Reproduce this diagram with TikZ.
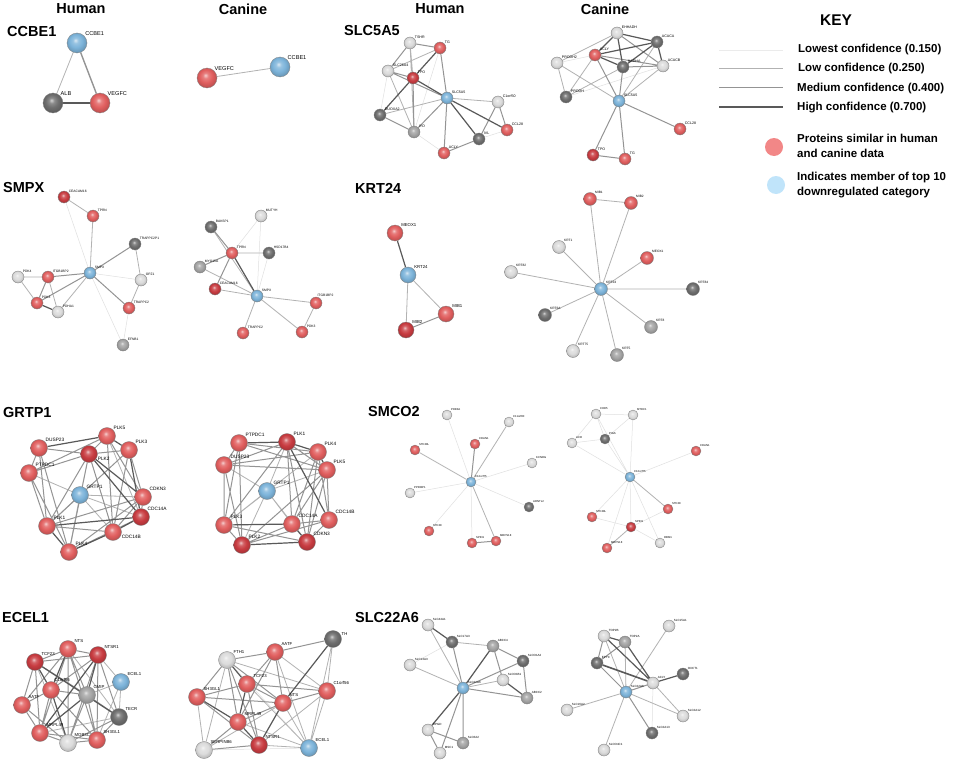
\documentclass[tikz,border=0pt]{standalone}
\usepackage{fontspec}
\setmainfont{Liberation Sans}
\usepackage{tikz}
\usetikzlibrary{backgrounds}
\definecolor{redb}{RGB}{225,95,95}
\definecolor{dredb}{RGB}{200,60,65}
\definecolor{blueb}{RGB}{125,180,218}
\definecolor{lgrayb}{RGB}{220,220,220}
\definecolor{mgrayb}{RGB}{165,165,165}
\definecolor{dgrayb}{RGB}{110,110,110}
\definecolor{keyred}{RGB}{242,135,135}
\definecolor{keyblue}{RGB}{192,228,250}
\colorlet{protc}{redb}
\pgfdeclareradialshading[protc]{glossy}{\pgfpoint{-4bp}{7bp}}{color(0bp)=(protc!30!white); color(7bp)=(protc!80!white); color(16bp)=(protc); color(26bp)=(protc!85!black); color(32bp)=(protc!60!black); color(50bp)=(protc!60!black)}
\tikzset{
	glow/.style={/utils/exec={\colorlet{protc}{#1}}, shade, shading=glossy},
	prot/.style={circle, draw=black!50, line width=0.3pt, inner sep=0pt, minimum size=12pt},
	pr/.style={prot, glow=redb},
	pdr/.style={prot, glow=dredb},
	pb/.style={prot, glow=blueb},
	pl/.style={prot, glow=lgrayb},
	pm/.style={prot, glow=mgrayb},
	pd/.style={prot, glow=dgrayb},
	e1/.style={draw=black!12, line width=0.5pt},
	e2/.style={draw=black!30, line width=0.8pt},
	e3/.style={draw=black!42, line width=1pt},
	e4/.style={draw=black!65, line width=1.2pt},
	head/.style={font=\fontsize{14.5}{16}\selectfont\bfseries, inner sep=0pt},
	ttl/.style={font=\fontsize{14.5}{16}\selectfont\bfseries, anchor=west, inner sep=0pt},
	keytxt/.style={font=\fontsize{11.5}{15}\selectfont\bfseries, anchor=west, inner sep=0pt, align=left}
}

\begin{document}
\begin{tikzpicture}[x=1pt, y=-1pt]
	\useasboundingbox (0,0) rectangle (957,765);
	\begin{pgfonlayer}{background}
		\fill[white] (0,0) rectangle (957,765);
	\end{pgfonlayer}
	%% Headers
	\node [head] at (81,9) (hdH1) {Human};
	\node [head] at (243,9) (hdC1) {Canine};
	\node [head] at (440,9) (hdH2) {Human};
	\node [head] at (605,9) (hdC2) {Canine};
	\node [ttl] at (7,32) (tCCBE) {CCBE1};
	\node [ttl] at (344,31) (tSLC5) {SLC5A5};
	\node [ttl] at (3,188) (tSMPX) {SMPX};
	\node [ttl] at (355,188) (tKRT) {KRT24};
	\node [ttl] at (3,413) (tGRTP) {GRTP1};
	\node [ttl] at (368,412) (tSMCO) {SMCO2};
	\node [ttl] at (2,617) (tECEL) {ECEL1};
	\node [ttl] at (355,617) (tSLC22) {SLC22A6};

	%% Key
	\node [head, font=\fontsize{15.5}{17}\selectfont\bfseries] at (836,20) (key) {KEY};
	\draw [e1, draw=black!8] (719,50) -- (783,50);
	\draw [e2] (719,68) -- (783,68);
	\draw [e3] (719,88) -- (783,88);
	\draw [e4] (719,107) -- (783,107);
	\node [keytxt] at (798,50) (k1) {Lowest confidence (0.150)};
	\node [keytxt] at (798,69) (k2) {Low confidence (0.250)};
	\node [keytxt] at (797,89) (k3) {Medium confidence (0.400)};
	\node [keytxt] at (797,108) (k4) {High confidence (0.700)};
	\node [circle, fill=keyred, minimum size=18pt] at (774,147) (kred) {};
	\node [circle, fill=keyblue, minimum size=18pt] at (776,185) (kblue) {};
	\node [keytxt] at (797,146) (k5) {Proteins similar in human\\and canine data};
	\node [keytxt] at (797,185) (k6) {Indicates member of top 10\\downregulated category};

	%% CCBE1
	\begin{scope}[every label/.style={font=\fontsize{5.6}{6}\selectfont, inner sep=0.3pt}, prot/.append style={minimum size=20pt}]
		\node [pb, label=40:CCBE1] at (77,43) (ccHccbe) {};
		\node [pd, label=45:ALB] at (53,103) (ccHalb) {};
		\node [pr, label=45:VEGFC] at (100,103) (ccHvegf) {};
		\node [pr, label=45:VEGFC] at (207,78) (ccCvegf) {};
		\node [pb, label=45:CCBE1] at (280,67) (ccCccbe) {};
	\end{scope}
	\begin{pgfonlayer}{background}
		\draw [e2] (ccHccbe) -- (ccHalb);
		\draw [e3, line width=1.4pt] (ccHccbe) -- (ccHvegf);
		\draw [e4, line width=2.4pt] (ccHalb) -- (ccHvegf);
		\draw [e2] (ccCvegf) -- (ccCccbe);
	\end{pgfonlayer}

	%% SLC5A5
	\begin{scope}[every label/.style={font=\fontsize{3.6}{4}\selectfont, inner sep=0.3pt}, prot/.append style={minimum size=12pt}]
		\node [pl, label=45:TSHR] at (410,43) (slHtshr) {};
		\node [pr, label=45:TG] at (440,48) (slHtg) {};
		\node [pl, label=45:SLC26A4] at (388,71) (slHslc26) {};
		\node [pdr, label=45:TPO] at (413,78) (slHtpo) {};
		\node [pb, label=45:SLC5A5] at (447,98) (slHslc5) {};
		\node [pl, label=45:C1orf50] at (498,102) (slHc1orf) {};
		\node [pd, label=45:DUOXA2] at (380,115) (slHduox) {};
		\node [pm, label=45:IYD] at (414,132) (slHiyd) {};
		\node [pr, label=45:CCL28] at (507,130) (slHccl) {};
		\node [pd, label=45:IVL] at (479,139) (slHivl) {};
		\node [pr, label=45:ACLY] at (444,153) (slHacly) {};
		\node [pl, label=45:EHHADH] at (617,33) (slCehh) {};
		\node [pd, label=45:ACACA] at (657,42) (slCacaca) {};
		\node [pl, label=45:PRODH2] at (557,63) (slCprodh2) {};
		\node [pr, label=45:ACLY] at (595,55) (slCacly) {};
		\node [pd, label=45:HADHA] at (623,67) (slChadha) {};
		\node [pl, label=45:ACACB] at (663,66) (slCacacb) {};
		\node [pd, label=45:PRODH] at (566,97) (slCprodh) {};
		\node [pb, label=45:SLC5A5] at (619,101) (slCslc5) {};
		\node [pr, label=45:CCL28] at (680,129) (slCccl) {};
		\node [pdr, label=45:TPO] at (593,155) (slCtpo) {};
		\node [pr, label=45:TG] at (625,159) (slCtg) {};
	\end{scope}
	\begin{pgfonlayer}{background}
		\draw [e1] (slHtg) -- (slHiyd) (slHslc26) -- (slHduox) (slHiyd) -- (slHacly) (slHivl) -- (slHccl);
		\draw [e2] (slHtshr) -- (slHiyd) (slHslc26) -- (slHtg) (slHslc26) -- (slHiyd) (slHduox) -- (slHslc5) (slHslc5) -- (slHc1orf) (slHtshr) -- (slHtpo);
		\draw [e3] (slHtshr) -- (slHtg) (slHtshr) -- (slHslc26) (slHtg) -- (slHslc5) (slHslc26) -- (slHslc5) (slHtpo) -- (slHiyd) (slHduox) -- (slHiyd) (slHslc5) -- (slHiyd) (slHslc5) -- (slHacly) (slHc1orf) -- (slHccl) (slHivl) -- (slHacly) (slHc1orf) -- (slHivl) (slHslc26) -- (slHtpo);
		\draw [e4] (slHtg) -- (slHtpo) (slHtpo) -- (slHduox) (slHtpo) -- (slHslc5) (slHslc5) -- (slHivl) (slHslc5) -- (slHccl);
		\draw [e1] (slCprodh2) -- (slCacly) (slCprodh) -- (slCacacb);
		\draw [e2] (slCprodh2) -- (slCslc5) (slCprodh2) -- (slCprodh) (slCacly) -- (slCprodh) (slCprodh) -- (slChadha) (slCprodh2) -- (slCehh) (slCacaca) -- (slCslc5) (slCacacb) -- (slCslc5);
		\draw [e3] (slCacly) -- (slCacacb) (slChadha) -- (slCacacb) (slCehh) -- (slCacacb) (slCacly) -- (slCslc5) (slChadha) -- (slCslc5) (slCslc5) -- (slCtpo) (slCslc5) -- (slCtg) (slCslc5) -- (slCccl) (slCtpo) -- (slCtg);
		\draw [e4] (slCacly) -- (slChadha) (slCacly) -- (slCacaca) (slCehh) -- (slCacaca) (slChadha) -- (slCacaca) (slCacaca) -- (slCacacb) (slCehh) -- (slChadha) (slCacly) -- (slCehh);
	\end{pgfonlayer}

	%% SMPX
	\begin{scope}[every label/.style={font=\fontsize{3.3}{4}\selectfont, inner sep=0.3pt}, prot/.append style={minimum size=12pt}]
		\node [pdr, label=45:CEACAM16] at (64,197) (smHceac) {};
		\node [pr, label=45:TPRN] at (93,216) (smHtprn) {};
		\node [pd, label=45:TRAPPC2P1] at (135,244) (smHtrap1) {};
		\node [pb, label=45:SMPX] at (90,273) (smHsmpx) {};
		\node [pl, label=45:PDK4] at (18,277) (smHpdk4) {};
		\node [pr, label=45:ITGB1BP2] at (48,277) (smHitgb) {};
		\node [pl, label=45:OPZ1] at (141,280) (smHopz) {};
		\node [pr, label=45:PDK3] at (37,303) (smHpdk3) {};
		\node [pl, label=45:PDHA1] at (58,312) (smHpdha) {};
		\node [pr, label=45:TRAPPC2] at (129,308) (smHtrap2) {};
		\node [pm, label=45:EFNB1] at (123,345) (smHefnb) {};
		\node [pd, label=45:BAKSP1] at (211,227) (smCbak) {};
		\node [pl, label=45:MUTYH] at (261,216) (smCmut) {};
		\node [pr, label=45:TPRN] at (232,253) (smCtprn) {};
		\node [pd, label=45:HSD17B4] at (269,253) (smChsd) {};
		\node [pm, label=45:MYO15A] at (200,267) (smCmyo) {};
		\node [pdr, label=45:CEACAM16] at (215,289) (smCceac) {};
		\node [pb, label=45:SMPX] at (257,296) (smCsmpx) {};
		\node [pr, label=80:ITGB1BP2] at (316,303) (smCitgb) {};
		\node [pr, label=45:TRAPPC2] at (243,333) (smCtrap2) {};
		\node [pr, label=45:PDK3] at (302,332) (smCpdk3) {};
	\end{scope}
	\begin{pgfonlayer}{background}
		\draw [e1] (smHceac) -- (smHsmpx) (smHsmpx) -- (smHefnb) (smHtrap2) -- (smHefnb) (smHsmpx) -- (smHopz);
		\draw [e2] (smHceac) -- (smHtprn) (smHtprn) -- (smHsmpx) (smHtrap1) -- (smHopz) (smHpdk4) -- (smHitgb) (smHpdk4) -- (smHpdk3) (smHitgb) -- (smHpdha) (smHsmpx) -- (smHpdha) (smHopz) -- (smHtrap2);
		\draw [e3] (smHtrap1) -- (smHsmpx) (smHsmpx) -- (smHitgb) (smHsmpx) -- (smHpdk3) (smHitgb) -- (smHpdk3) (smHsmpx) -- (smHtrap2);
		\draw [e4] (smHpdk3) -- (smHpdha);
		\draw [e1] (smCmut) -- (smCtprn) (smCmut) -- (smCsmpx) (smChsd) -- (smCsmpx);
		\draw [e2] (smCbak) -- (smCsmpx) (smCtprn) -- (smChsd) (smCmyo) -- (smCsmpx) (smCsmpx) -- (smCitgb) (smCsmpx) -- (smCtrap2) (smCsmpx) -- (smCpdk3) (smCitgb) -- (smCpdk3) (smCceac) -- (smCsmpx);
		\draw [e3] (smCbak) -- (smCtprn) (smCtprn) -- (smCmyo) (smCtprn) -- (smCceac);
		\draw [e4] (smCtprn) -- (smCsmpx);
	\end{pgfonlayer}

	%% KRT24
	\begin{scope}[every label/.style={font=\fontsize{4.3}{5}\selectfont, inner sep=0.3pt}, prot/.append style={minimum size=16pt}]
		\node [pr, label=45:MEOX1] at (395,233) (krHmeox) {};
		\node [pb, label=45:KRT24] at (408,275) (krHkrt) {};
		\node [pr, label=45:MIB1] at (446,314) (krHmib1) {};
		\node [pdr, label=45:MIB2] at (406,330) (krHmib2) {};
	\end{scope}
	\begin{scope}[every label/.style={font=\fontsize{3.2}{4}\selectfont, inner sep=0.3pt}, prot/.append style={minimum size=13pt}]
		\node [pr, label=45:MIB1] at (590,199) (krCmib1) {};
		\node [pr, label=45:MIB2] at (631,203) (krCmib2) {};
		\node [pl, label=45:KRT1] at (559,247) (krCkrt1) {};
		\node [pr, label=45:MEOX1] at (647,258) (krCmeox) {};
		\node [pl, label=45:KRT82] at (511,272) (krCkrt82) {};
		\node [pb, label=45:KRT24] at (601,289) (krCkrt) {};
		\node [pd, label=45:KRT84] at (693,289) (krCkrt84) {};
		\node [pd, label=45:KRT6A] at (545,315) (krCkrt6a) {};
		\node [pm, label=45:KRT8] at (651,327) (krCkrt8) {};
		\node [pl, label=45:KRT75] at (573,351) (krCkrt75) {};
		\node [pm, label=45:KRT5] at (617,355) (krCkrt5) {};
	\end{scope}
	\begin{pgfonlayer}{background}
		\draw [e4] (krHmeox) -- (krHkrt);
		\draw [e2] (krHkrt) -- (krHmib2) (krHkrt) -- (krHmib1);
		\draw [e3] (krHmib1) -- (krHmib2);
		\draw [e2] (krCkrt) -- (krCmib1) (krCkrt) -- (krCmib2) (krCkrt) -- (krCkrt1) (krCkrt) -- (krCmeox) (krCkrt) -- (krCkrt82) (krCkrt) -- (krCkrt84) (krCkrt) -- (krCkrt6a) (krCkrt) -- (krCkrt8) (krCkrt) -- (krCkrt75) (krCkrt) -- (krCkrt5) (krCmib1) -- (krCmib2);
	\end{pgfonlayer}

	%% GRTP1
	\begin{scope}[every label/.style={font=\fontsize{4.8}{5}\selectfont, inner sep=0.3pt}, prot/.append style={minimum size=17pt}]
		\node [pr, label=45:PLK5] at (107,436) (grHplk5) {};
		\node [pr, label=45:DUSP23] at (39,448) (grHdusp) {};
		\node [pr, label=45:PLK3] at (129,450) (grHplk3) {};
		\node [pdr, label=-15:PLK2] at (89,454) (grHplk2) {};
		\node [pr, label=45:PTPDC1] at (29,473) (grHptp) {};
		\node [pb, label=45:GRTP1] at (80,495) (grHgrtp) {};
		\node [pr, label=45:CDKN3] at (143,497) (grHcdkn3) {};
		\node [pdr, label=45:CDC14A] at (141,517) (grHc14a) {};
		\node [pr, label=45:PLK1] at (47,526) (grHplk1) {};
		\node [pr, label=-15:CDC14B] at (113,532) (grHc14b) {};
		\node [pr, label=45:PLK4] at (69,552) (grHplk4) {};
		\node [pr, label=45:PTPDC1] at (239,443) (grCptp) {};
		\node [pdr, label=45:PLK1] at (287,442) (grCplk1) {};
		\node [pr, label=45:PLK4] at (318,452) (grCplk4) {};
		\node [pr, label=45:DUSP23] at (224,465) (grCdusp) {};
		\node [pr, label=45:PLK5] at (327,470) (grCplk5) {};
		\node [pb, label=45:GRTP1] at (267,491) (grCgrtp) {};
		\node [pr, label=45:PLK3] at (224,525) (grCplk3) {};
		\node [pr, label=45:CDC14A] at (292,524) (grCc14a) {};
		\node [pr, label=45:CDC14B] at (329,520) (grCc14b) {};
		\node [pdr, label=45:PLK2] at (242,545) (grCplk2) {};
		\node [pdr, label=45:CDKN3] at (307,542) (grCcdkn3) {};
	\end{scope}
	\begin{pgfonlayer}{background}
		\draw [e1] (grHplk2) -- (grHgrtp);
		\draw [e2] (grHgrtp) -- (grHptp) (grHgrtp) -- (grHcdkn3) (grHgrtp) -- (grHplk1) (grHgrtp) -- (grHc14b) (grHgrtp) -- (grHplk4) (grHgrtp) -- (grHc14a) (grHplk5) -- (grHc14a);
		\draw [e3] (grHdusp) -- (grHplk2) (grHdusp) -- (grHptp) (grHdusp) -- (grHplk1) (grHptp) -- (grHplk2) (grHptp) -- (grHplk5) (grHptp) -- (grHplk1) (grHptp) -- (grHplk4) (grHplk5) -- (grHplk2) (grHplk5) -- (grHcdkn3) (grHplk5) -- (grHc14b) (grHplk3) -- (grHplk2) (grHplk3) -- (grHcdkn3) (grHplk3) -- (grHplk1) (grHplk3) -- (grHc14b) (grHplk2) -- (grHplk1) (grHplk2) -- (grHc14b) (grHcdkn3) -- (grHc14a) (grHcdkn3) -- (grHplk1) (grHcdkn3) -- (grHc14b) (grHcdkn3) -- (grHplk4) (grHc14a) -- (grHplk4) (grHplk1) -- (grHc14b) (grHdusp) -- (grHplk4) (grHplk2) -- (grHplk4);
		\draw [e4] (grHdusp) -- (grHplk5) (grHplk2) -- (grHc14a) (grHplk2) -- (grHcdkn3) (grHplk1) -- (grHc14a) (grHc14a) -- (grHc14b) (grHc14b) -- (grHplk4) (grHplk1) -- (grHplk4) (grHplk3) -- (grHc14a) (grHplk5) -- (grHplk3);
		\draw [e2] (grCplk1) -- (grCgrtp) (grCdusp) -- (grCgrtp) (grCplk5) -- (grCgrtp) (grCgrtp) -- (grCplk3) (grCgrtp) -- (grCc14a) (grCgrtp) -- (grCplk2) (grCgrtp) -- (grCcdkn3) (grCplk4) -- (grCplk3);
		\draw [e3] (grCptp) -- (grCdusp) (grCptp) -- (grCplk4) (grCptp) -- (grCplk5) (grCptp) -- (grCplk3) (grCptp) -- (grCplk2) (grCplk1) -- (grCplk5) (grCplk1) -- (grCdusp) (grCplk1) -- (grCc14a) (grCplk1) -- (grCcdkn3) (grCplk1) -- (grCplk3) (grCplk4) -- (grCdusp) (grCplk4) -- (grCc14a) (grCplk4) -- (grCc14b) (grCplk4) -- (grCcdkn3) (grCdusp) -- (grCplk5) (grCdusp) -- (grCplk3) (grCdusp) -- (grCplk2) (grCplk5) -- (grCc14a) (grCplk5) -- (grCc14b) (grCplk5) -- (grCcdkn3) (grCplk5) -- (grCplk2) (grCplk3) -- (grCplk2) (grCplk3) -- (grCcdkn3) (grCc14a) -- (grCplk2) (grCc14a) -- (grCc14b) (grCc14b) -- (grCcdkn3) (grCc14b) -- (grCplk2);
		\draw [e4] (grCptp) -- (grCplk1) (grCplk1) -- (grCplk4) (grCplk3) -- (grCc14a) (grCc14a) -- (grCcdkn3) (grCplk2) -- (grCcdkn3) (grCplk1) -- (grCc14b) (grCplk4) -- (grCplk5);
	\end{pgfonlayer}

	%% SMCO2
	\begin{scope}[every label/.style={font=\fontsize{2.8}{3}\selectfont, inner sep=0.3pt}, prot/.append style={minimum size=10pt}]
		\node [pl, label=45:PDE3A] at (447,415) (scHpde) {};
		\node [pl, label=45:C11orf80] at (509,422) (scHc11) {};
		\node [pr, label=45:STK38L] at (415,450) (scHstkl) {};
		\node [pr, label=45:CDAN1] at (475,444) (scHcdan) {};
		\node [pl, label=45:KCNRG] at (532,463) (scHkcn) {};
		\node [pl, label=45:PPFIBP1] at (410,493) (scHppf) {};
		\node [pb, label=45:C12orf75] at (471,482) (scHc12) {};
		\node [pd, label=45:ARNTL2] at (529,507) (scHarn) {};
		\node [pr, label=45:STK38] at (429,531) (scHstk) {};
		\node [pr, label=45:SPIN1] at (472,543) (scHspin) {};
		\node [pr, label=45:MRPS18] at (496,541) (scHmrp) {};
		\node [pl, label=45:CHD5] at (596,414) (scCchd) {};
		\node [pl, label=45:MTDC1] at (633,415) (scCmtd) {};
		\node [pl, label=45:ACR] at (572,443) (scCacr) {};
		\node [pd, label=45:PIGS] at (605,439) (scCpigs) {};
		\node [pr, label=45:CDAN1] at (696,451) (scCcdan) {};
		\node [pb, label=45:C12orf75] at (630,477) (scCc12) {};
		\node [pr, label=45:STK38] at (668,509) (scCstk) {};
		\node [pr, label=45:STK38L] at (592,517) (scCstkl) {};
		\node [pdr, label=45:SPIN1] at (631,527) (scCspin) {};
		\node [pr, label=45:MRPS18] at (607,548) (scCmrp) {};
		\node [pl, label=45:RBM1] at (660,543) (scCrbm) {};
	\end{scope}
	\begin{pgfonlayer}{background}
		\draw [e1] (scHc12) -- (scHpde) (scHc12) -- (scHkcn) (scHc12) -- (scHppf) (scHc12) -- (scHarn) (scHc12) -- (scHstk) (scHc12) -- (scHspin);
		\draw [e2] (scHc12) -- (scHstkl) (scHc12) -- (scHc11) (scHc12) -- (scHmrp);
		\draw [e3] (scHc12) -- (scHcdan) (scHspin) -- (scHmrp);
		\draw [e1] (scCchd) -- (scCmtd) (scCchd) -- (scCacr) (scCchd) -- (scCpigs) (scCchd) -- (scCc12) (scCmtd) -- (scCpigs) (scCmtd) -- (scCc12) (scCacr) -- (scCpigs) (scCacr) -- (scCc12) (scCpigs) -- (scCc12) (scCcdan) -- (scCc12) (scCc12) -- (scCstkl) (scCc12) -- (scCspin) (scCc12) -- (scCrbm) (scCstkl) -- (scCspin) (scCspin) -- (scCstk) (scCspin) -- (scCrbm) (scCc12) -- (scCmrp);
		\draw [e2] (scCc12) -- (scCstk) (scCspin) -- (scCmrp);
	\end{pgfonlayer}

	%% ECEL1
	\begin{scope}[every label/.style={font=\fontsize{4.3}{5}\selectfont, inner sep=0.3pt}, prot/.append style={minimum size=17pt}]
		\node [pr, label=45:NTS] at (68,649) (ecHnts) {};
		\node [pdr, label=45:NTSR1] at (98,655) (ecHntsr) {};
		\node [pdr, label=45:TCF23] at (35,662) (ecHtcf) {};
		\node [pb, label=45:ECEL1] at (121,682) (ecHecel) {};
		\node [pr, label=70:C1orf56] at (51,690) (ecHc1) {};
		\node [pm, label=45:CMIP] at (87,695) (ecHcmip) {};
		\node [pr, label=45:AATF] at (22,705) (ecHaatf) {};
		\node [pd, label=45:TECR] at (119,717) (ecHtecr) {};
		\node [pr, label=45:MRPL49] at (40,733) (ecHmrpl) {};
		\node [pl, label=45:MOB3C] at (68,743) (ecHmob) {};
		\node [pr, label=45:SH3GL1] at (97,740) (ecHsh3) {};
		\node [pd, label=20:TH] at (333,639) (ecCth) {};
		\node [pr, label=45:AATF] at (275,652) (ecCaatf) {};
		\node [pl, label=45:FTH1] at (227,660) (ecCfth) {};
		\node [pr, label=45:C1orf56] at (327,691) (ecCc1) {};
		\node [pr, label=45:TCF23] at (247,684) (ecCtcf) {};
		\node [pr, label=45:SH3GL1] at (197,697) (ecCsh3) {};
		\node [pr, label=45:NTS] at (283,703) (ecCnts) {};
		\node [pr, label=45:MRPL49] at (238,722) (ecCmrpl) {};
		\node [pl, label=45:SERPINB6] at (204,750) (ecCserp) {};
		\node [pdr, label=45:NTSR1] at (259,745) (ecCntsr) {};
		\node [pb, label=45:ECEL1] at (309,748) (ecCecel) {};
	\end{scope}
	\begin{pgfonlayer}{background}
		\draw [e2] (ecHntsr) -- (ecHecel) (ecHecel) -- (ecHtecr) (ecHecel) -- (ecHcmip) (ecHecel) -- (ecHsh3) (ecHnts) -- (ecHtecr) (ecHtecr) -- (ecHmrpl) (ecHtcf) -- (ecHmob);
		\draw [e3] (ecHnts) -- (ecHntsr) (ecHnts) -- (ecHtcf) (ecHnts) -- (ecHcmip) (ecHnts) -- (ecHaatf) (ecHnts) -- (ecHmrpl) (ecHnts) -- (ecHmob) (ecHnts) -- (ecHsh3) (ecHntsr) -- (ecHtcf) (ecHntsr) -- (ecHc1) (ecHntsr) -- (ecHtecr) (ecHntsr) -- (ecHmob) (ecHntsr) -- (ecHsh3) (ecHtcf) -- (ecHaatf) (ecHtcf) -- (ecHcmip) (ecHtcf) -- (ecHmrpl) (ecHc1) -- (ecHaatf) (ecHc1) -- (ecHcmip) (ecHc1) -- (ecHmrpl) (ecHc1) -- (ecHsh3) (ecHcmip) -- (ecHtecr) (ecHcmip) -- (ecHmob) (ecHcmip) -- (ecHsh3) (ecHaatf) -- (ecHmrpl) (ecHaatf) -- (ecHmob) (ecHtecr) -- (ecHsh3) (ecHtecr) -- (ecHmob) (ecHmrpl) -- (ecHmob) (ecHmob) -- (ecHsh3) (ecHmrpl) -- (ecHsh3);
		\draw [e4] (ecHtcf) -- (ecHtecr) (ecHnts) -- (ecHc1) (ecHntsr) -- (ecHcmip) (ecHntsr) -- (ecHmrpl) (ecHcmip) -- (ecHmrpl) (ecHtcf) -- (ecHc1) (ecHc1) -- (ecHmob);
		\draw [e1] (ecCserp) -- (ecCecel) (ecCfth) -- (ecCecel);
		\draw [e2] (ecCth) -- (ecCc1) (ecCth) -- (ecCecel) (ecCaatf) -- (ecCc1) (ecCaatf) -- (ecCecel) (ecCfth) -- (ecCc1) (ecCfth) -- (ecCserp) (ecCc1) -- (ecCecel) (ecCc1) -- (ecCntsr) (ecCtcf) -- (ecCecel) (ecCsh3) -- (ecCserp) (ecCnts) -- (ecCecel) (ecCnts) -- (ecCserp) (ecCmrpl) -- (ecCecel) (ecCntsr) -- (ecCecel);
		\draw [e3] (ecCaatf) -- (ecCfth) (ecCaatf) -- (ecCtcf) (ecCaatf) -- (ecCnts) (ecCaatf) -- (ecCmrpl) (ecCfth) -- (ecCsh3) (ecCfth) -- (ecCnts) (ecCfth) -- (ecCmrpl) (ecCfth) -- (ecCntsr) (ecCtcf) -- (ecCsh3) (ecCtcf) -- (ecCnts) (ecCtcf) -- (ecCntsr) (ecCsh3) -- (ecCnts) (ecCsh3) -- (ecCntsr) (ecCnts) -- (ecCmrpl) (ecCnts) -- (ecCc1) (ecCth) -- (ecCaatf) (ecCmrpl) -- (ecCserp) (ecCserp) -- (ecCntsr) (ecCc1) -- (ecCtcf);
		\draw [e4] (ecCfth) -- (ecCtcf) (ecCnts) -- (ecCntsr) (ecCsh3) -- (ecCmrpl) (ecCtcf) -- (ecCmrpl) (ecCmrpl) -- (ecCntsr) (ecCth) -- (ecCnts);
	\end{pgfonlayer}

	%% SLC22A6
	\begin{scope}[every label/.style={font=\fontsize{3}{3.5}\selectfont, inner sep=0.3pt}, prot/.append style={minimum size=12pt}]
		\node [pl, label=45:SLC44A1] at (428,625) (saHs44) {};
		\node [pd, label=45:SLC17A3] at (452,642) (saHs17) {};
		\node [pm, label=45:ABCC4] at (493,646) (saHabc4) {};
		\node [pl, label=45:SLC13A3] at (410,665) (saHs13) {};
		\node [pd, label=45:SLCO1A2] at (523,661) (saHo1a2) {};
		\node [pl, label=45:SLCO1B1] at (503,680) (saHo1b1) {};
		\node [pb, label=45:SLC22A6] at (463,688) (saHs22) {};
		\node [pm, label=45:ABCC2] at (527,698) (saHabc2) {};
		\node [pl, label=45:HPGD] at (428,730) (saHhpgd) {};
		\node [pm, label=45:SLC6A2] at (463,743) (saHs6) {};
		\node [pl, label=45:MSC1] at (440,753) (saHmsc) {};
		\node [pl, label=45:SLC15A1] at (669,626) (saCs15) {};
		\node [pl, label=45:TOP2B] at (604,636) (saCtop2b) {};
		\node [pm, label=45:TOP2A] at (625,642) (saCtop2a) {};
		\node [pd, label=45:EPYC] at (597,663) (saCepyc) {};
		\node [pd, label=45:OXCT1] at (683,674) (saCoxct) {};
		\node [pl, label=45:ACLY] at (653,683) (saCacly) {};
		\node [pb, label=45:SLC22A6] at (626,692) (saCs22) {};
		\node [pl, label=45:SLC16A2] at (567,710) (saCs16) {};
		\node [pl, label=45:SLC2A12] at (683,716) (saCs2a12) {};
		\node [pd, label=45:SLC2A13] at (652,733) (saCs2a13) {};
		\node [pl, label=45:SLCO4C1] at (604,750) (saCo4c1) {};
	\end{scope}
	\begin{pgfonlayer}{background}
		\draw [e1] (saHs17) -- (saHs13);
		\draw [e2] (saHs44) -- (saHs22) (saHs13) -- (saHs22) (saHs17) -- (saHabc4) (saHo1b1) -- (saHs22);
		\draw [e3] (saHs17) -- (saHs22) (saHabc4) -- (saHo1a2) (saHabc4) -- (saHo1b1) (saHo1a2) -- (saHs22) (saHo1a2) -- (saHabc2) (saHs22) -- (saHabc2) (saHs22) -- (saHs6) (saHs22) -- (saHmsc) (saHhpgd) -- (saHs6) (saHhpgd) -- (saHmsc);
		\draw [e4] (saHs44) -- (saHs17) (saHabc4) -- (saHs22) (saHo1b1) -- (saHabc2) (saHs22) -- (saHhpgd);
		\draw [e1] (saCacly) -- (saCs2a13);
		\draw [e2] (saCs15) -- (saCs22) (saCtop2b) -- (saCs22) (saCtop2a) -- (saCs22) (saCs22) -- (saCs16) (saCs22) -- (saCs2a12) (saCacly) -- (saCs2a12) (saCs22) -- (saCo4c1);
		\draw [e3] (saCtop2a) -- (saCepyc) (saCtop2b) -- (saCepyc) (saCepyc) -- (saCs22) (saCs22) -- (saCs2a13) (saCacly) -- (saCs22);
		\draw [e4] (saCtop2b) -- (saCtop2a) (saCtop2b) -- (saCacly) (saCtop2a) -- (saCacly) (saCoxct) -- (saCacly);
		\draw [e4, line width=1.6pt] (saCepyc) -- (saCacly);
	\end{pgfonlayer}
\end{tikzpicture}
\end{document}
